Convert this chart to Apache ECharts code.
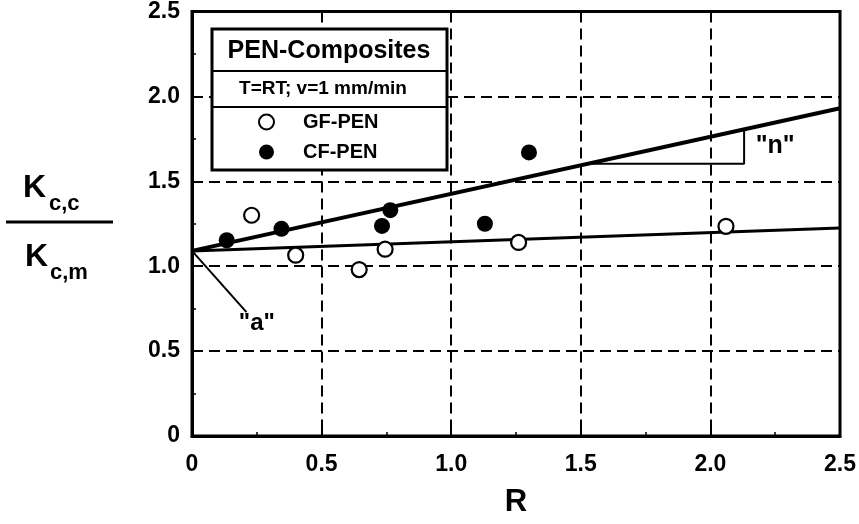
<!DOCTYPE html>
<html>
<head>
<meta charset="utf-8">
<script src="https://cdn.jsdelivr.net/npm/echarts@6/dist/echarts.min.js"></script>
<style>
html,body{margin:0;padding:0;background:#fff;}
#chart{width:859px;height:524px;}
</style>
</head>
<body>
<div id="chart"></div>
<script>
// ---- data ----
var xTicks = [0, 0.5, 1.0, 1.5, 2.0, 2.5];
var yTicks = [0, 0.5, 1.0, 1.5, 2.0, 2.5];
var gfPen = [[0.23, 1.30], [0.40, 1.065], [0.645, 0.98], [0.745, 1.10], [1.26, 1.14], [2.06, 1.235]];
var cfPen = [[0.134, 1.153], [0.345, 1.22], [0.733, 1.237], [0.765, 1.33], [1.13, 1.25], [1.30, 1.67]];
var fitCF = [[0, 1.09], [2.5, 1.93]];
var fitGF = [[0, 1.09], [2.5, 1.225]];
var slopeTriangle = [[1.53, 1.604], [2.13, 1.604], [2.13, 1.806]];
var interceptLeader = [[0, 1.09], [0.21, 0.73]];
var labelN = [2.25, 1.706];
var labelA = [0.25, 0.665];

var FONT = '"Liberation Sans", Arial, Helvetica, sans-serif';
var chart = echarts.init(document.getElementById('chart'), null, {renderer: 'canvas'});

function tickFmt(v) { return v === 0 ? '0' : v.toFixed(1); }

var option = {
  backgroundColor: '#fff',
  animation: false,
  grid: {left: 192, right: 18, top: 11, bottom: 88, show: true, borderColor: '#000', borderWidth: 3, backgroundColor: 'transparent'},
  xAxis: {
    type: 'value', min: xTicks[0], max: xTicks[xTicks.length - 1], interval: 0.5,
    name: 'R', nameLocation: 'middle', nameGap: 51,
    nameTextStyle: {fontFamily: FONT, fontWeight: 'bold', fontSize: 31, color: '#000'},
    axisLine: {show: true, lineStyle: {color: '#000', width: 3}},
    axisTick: {show: true, inside: true, length: 6, lineStyle: {color: '#000', width: 2}},
    minorTick: {show: true, splitNumber: 2, length: 4, lineStyle: {color: '#000', width: 1.5}},
    axisLabel: {formatter: tickFmt, fontFamily: FONT, fontWeight: 'bold', fontSize: 23, color: '#000', margin: 17},
    splitLine: {show: true, lineStyle: {color: '#000', width: 2, type: [11, 6]}}
  },
  yAxis: {
    type: 'value', min: yTicks[0], max: yTicks[yTicks.length - 1], interval: 0.5,
    axisLine: {show: true, lineStyle: {color: '#000', width: 3}},
    axisTick: {show: true, inside: true, length: 6, lineStyle: {color: '#000', width: 2}},
    minorTick: {show: true, splitNumber: 2, length: 4, lineStyle: {color: '#000', width: 1.5}},
    axisLabel: {formatter: tickFmt, fontFamily: FONT, fontWeight: 'bold', fontSize: 23, color: '#000', margin: 12},
    splitLine: {show: true, lineStyle: {color: '#000', width: 2, type: [11, 6]}}
  },
  legend: {
    orient: 'vertical', left: 253, top: 107, itemWidth: 15, itemHeight: 15, itemGap: 10, z: 30,
    data: ['GF-PEN', 'CF-PEN'],
    textStyle: {fontFamily: FONT, fontWeight: 'bold', fontSize: 20, color: '#000', padding: [0, 0, 0, 24]}
  },
  series: [
    {name: 'fitCF', type: 'line', data: fitCF, symbol: 'none', lineStyle: {color: '#000', width: 4}, z: 3, silent: true},
    {name: 'fitGF', type: 'line', data: fitGF, symbol: 'none', lineStyle: {color: '#000', width: 3}, z: 3, silent: true},
    {name: 'slope', type: 'line', data: slopeTriangle, symbol: 'none', lineStyle: {color: '#000', width: 2}, z: 3, silent: true},
    {name: 'leader', type: 'line', data: interceptLeader, symbol: 'none', lineStyle: {color: '#000', width: 2}, z: 3, silent: true},
    {name: 'GF-PEN', type: 'scatter', data: gfPen, symbol: 'circle', symbolSize: 15,
     itemStyle: {color: '#fff', borderColor: '#000', borderWidth: 2.2, opacity: 1}, z: 5},
    {name: 'CF-PEN', type: 'scatter', data: cfPen, symbol: 'circle', symbolSize: 16,
     itemStyle: {color: '#000', borderColor: '#000', borderWidth: 0, opacity: 1}, z: 5}
  ]
};
chart.setOption(option);

var pN = chart.convertToPixel({gridIndex: 0}, labelN);
var pA = chart.convertToPixel({gridIndex: 0}, labelA);

chart.setOption({
  graphic: [
    // legend frame
    {type: 'rect', z: 20, shape: {x: 212, y: 29, width: 235, height: 141}, style: {fill: '#fff', stroke: '#000', lineWidth: 3}},
    {type: 'line', z: 21, shape: {x1: 212, y1: 71, x2: 447, y2: 71}, style: {stroke: '#000', lineWidth: 2}},
    {type: 'line', z: 21, shape: {x1: 212, y1: 107, x2: 447, y2: 107}, style: {stroke: '#000', lineWidth: 2}},
    {type: 'text', z: 22, x: 329, y: 51, style: {text: 'PEN-Composites', fontFamily: FONT, fontWeight: 'bold', fontSize: 25, fill: '#000', align: 'center', verticalAlign: 'middle'}},
    {type: 'text', z: 22, x: 323, y: 89, style: {text: 'T=RT; v=1 mm/min', fontFamily: FONT, fontWeight: 'bold', fontSize: 19, fill: '#000', align: 'center', verticalAlign: 'middle'}},
    // annotations
    {type: 'text', z: 22, x: pN[0], y: pN[1], style: {text: '"n"', fontFamily: FONT, fontWeight: 'bold', fontSize: 25, fill: '#000', align: 'center', verticalAlign: 'middle'}},
    {type: 'text', z: 22, x: pA[0], y: pA[1], style: {text: '"a"', fontFamily: FONT, fontWeight: 'bold', fontSize: 24, fill: '#000', align: 'center', verticalAlign: 'middle'}},
    // y-axis fraction label
    {type: 'text', z: 22, x: 23, y: 188, style: {text: 'K', fontFamily: FONT, fontWeight: 'bold', fontSize: 32, fill: '#000', align: 'left', verticalAlign: 'middle'}},
    {type: 'text', z: 22, x: 49, y: 204, style: {text: 'c,c', fontFamily: FONT, fontWeight: 'bold', fontSize: 22, fill: '#000', align: 'left', verticalAlign: 'middle'}},
    {type: 'line', z: 22, shape: {x1: 6, y1: 222, x2: 113, y2: 222}, style: {stroke: '#000', lineWidth: 3}},
    {type: 'text', z: 22, x: 25, y: 257, style: {text: 'K', fontFamily: FONT, fontWeight: 'bold', fontSize: 32, fill: '#000', align: 'left', verticalAlign: 'middle'}},
    {type: 'text', z: 22, x: 50, y: 273, style: {text: 'c,m', fontFamily: FONT, fontWeight: 'bold', fontSize: 22, fill: '#000', align: 'left', verticalAlign: 'middle'}}
  ]
});
</script>
</body>
</html>
